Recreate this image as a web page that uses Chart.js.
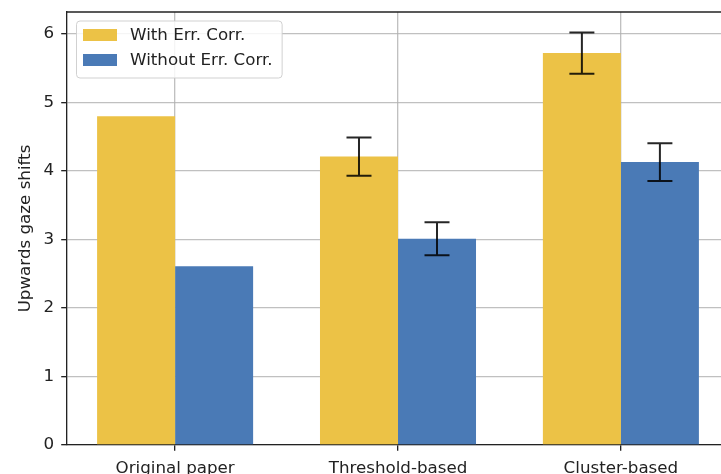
<!DOCTYPE html>
<html>
<head>
<meta charset="utf-8">
<script src="https://cdn.jsdelivr.net/npm/chart.js@4/dist/chart.umd.min.js"></script>
<style>
  html, body { margin: 0; padding: 0; background: #fff; overflow: hidden; }
  #wrap { width: 740px; height: 474px; }
</style>
</head>
<body>
<div id="wrap"><canvas id="c" width="740" height="474"></canvas></div>
<script>
// Method categories along the x axis
const categories = ['Original paper', 'Threshold-based', 'Cluster-based'];

// Mean upward gaze shifts per method
const withCorr = [4.8, 4.21, 5.72];
const withoutCorr = [2.61, 3.01, 4.13];

// Half-lengths of the error bars (null = no error bar)
const withCorrErr = [null, 0.28, 0.30];
const withoutCorrErr = [null, 0.24, 0.275];

const seriesLabels = ['With Err. Corr.', 'Without Err. Corr.'];
const yTicks = [0, 1, 2, 3, 4, 5, 6];

const FONT = 'DejaVu Sans';
const FS = 16.7;
const INK = '#222';
const YELLOW = '#ECC246';
const BLUE = '#4A7AB6';
const GRID = 'rgba(176,176,176,0.8)';

Chart.defaults.font.family = FONT;
Chart.defaults.font.size = FS;
Chart.defaults.color = INK;

const toPoints = vals => vals.map((v, i) => ({ x: i, y: v }));

// Error bars drawn from the same bar elements and y scale
const errorBars = {
  id: 'errorBars',
  afterDatasetsDraw(chart) {
    const { ctx } = chart;
    const ys = chart.scales.y;
    const errs = [withCorrErr, withoutCorrErr];
    ctx.save();
    ctx.strokeStyle = 'rgba(0,0,0,0.85)';
    ctx.lineWidth = 2;
    chart.data.datasets.forEach((ds, di) => {
      const meta = chart.getDatasetMeta(di);
      meta.data.forEach((bar, j) => {
        const e = errs[di][j];
        if (e == null) return;
        const v = ds.data[j].y;
        const top = ys.getPixelForValue(v + e);
        const bot = ys.getPixelForValue(v - e);
        const x = bar.x;
        ctx.beginPath();
        ctx.moveTo(x, top); ctx.lineTo(x, bot);
        ctx.moveTo(x - 12.5, top); ctx.lineTo(x + 12.5, top);
        ctx.moveTo(x - 12.5, bot); ctx.lineTo(x + 12.5, bot);
        ctx.stroke();
      });
    });
    ctx.restore();
  }
};

// Top frame line and legend box inside the plot
const frameAndLegend = {
  id: 'frameAndLegend',
  afterDraw(chart) {
    const { ctx, chartArea: a } = chart;
    ctx.save();
    ctx.strokeStyle = INK;
    ctx.lineWidth = 1.33;
    ctx.beginPath();
    ctx.moveTo(a.left, a.top);
    ctx.lineTo(a.right, a.top);
    ctx.stroke();

    ctx.font = FS + 'px "' + FONT + '"';
    const colors = [YELLOW, BLUE];
    const textW = Math.max(...seriesLabels.map(t => ctx.measureText(t).width));
    const bx = a.left + 9, by = a.top + 8.5;
    const bw = 7 + 34 + 13 + textW + 9, bh = 57;
    ctx.beginPath();
    ctx.roundRect(bx + 0.5, by + 0.5, bw, bh, 3.5);
    ctx.fillStyle = 'rgba(255,255,255,0.85)';
    ctx.fill();
    ctx.strokeStyle = 'rgba(204,204,204,0.9)';
    ctx.lineWidth = 1;
    ctx.stroke();

    seriesLabels.forEach((t, i) => {
      const cy = by + 14.5 + i * 25;
      ctx.fillStyle = colors[i];
      ctx.fillRect(bx + 7, cy - 6, 34, 12);
      ctx.fillStyle = INK;
      ctx.textBaseline = 'middle';
      ctx.textAlign = 'left';
      ctx.fillText(t, bx + 7 + 34 + 13, cy + 1);
    });
    ctx.restore();
  }
};

new Chart(document.getElementById('c'), {
  type: 'bar',
  data: {
    datasets: [
      { label: seriesLabels[0], data: toPoints(withCorr), backgroundColor: YELLOW, borderWidth: 0 },
      { label: seriesLabels[1], data: toPoints(withoutCorr), backgroundColor: BLUE, borderWidth: 0 }
    ]
  },
  options: {
    responsive: false,
    animation: false,
    layout: { padding: { top: 12, right: 11, left: 0, bottom: 0 } },
    datasets: { bar: { categoryPercentage: 0.7, barPercentage: 1.0 } },
    plugins: { legend: { display: false }, tooltip: { enabled: false } },
    scales: {
      x: {
        type: 'linear',
        min: -0.485,
        max: 2.485,
        offset: false,
        z: 1,
        afterBuildTicks: s => { s.ticks = categories.map((_, i) => ({ value: i })); },
        afterFit: s => { s.height = 29; s.paddingLeft = 0; s.paddingRight = 0; },
        ticks: {
          callback: v => categories[v],
          padding: 8,
          color: INK,
          maxRotation: 0,
          autoSkip: false
        },
        grid: { color: GRID, lineWidth: 1.33, tickColor: INK, tickLength: 5.8, offset: false },
        border: { color: INK, width: 1.33 }
      },
      y: {
        min: 0,
        max: 6.32,
        z: 1,
        afterBuildTicks: s => { s.ticks = yTicks.map(v => ({ value: v })); },
        afterFit: s => { s.width = 67; s.paddingTop = 0; s.paddingBottom = 0; },
        ticks: { padding: 7, color: INK },
        grid: { color: GRID, lineWidth: 1.33, tickColor: INK, tickLength: 5.8 },
        border: { color: INK, width: 1.33 },
        title: {
          display: true,
          text: 'Upwards gaze shifts',
          color: INK,
          padding: { top: 16, bottom: 0 }
        }
      }
    }
  },
  plugins: [errorBars, frameAndLegend]
});
</script>
</body>
</html>
